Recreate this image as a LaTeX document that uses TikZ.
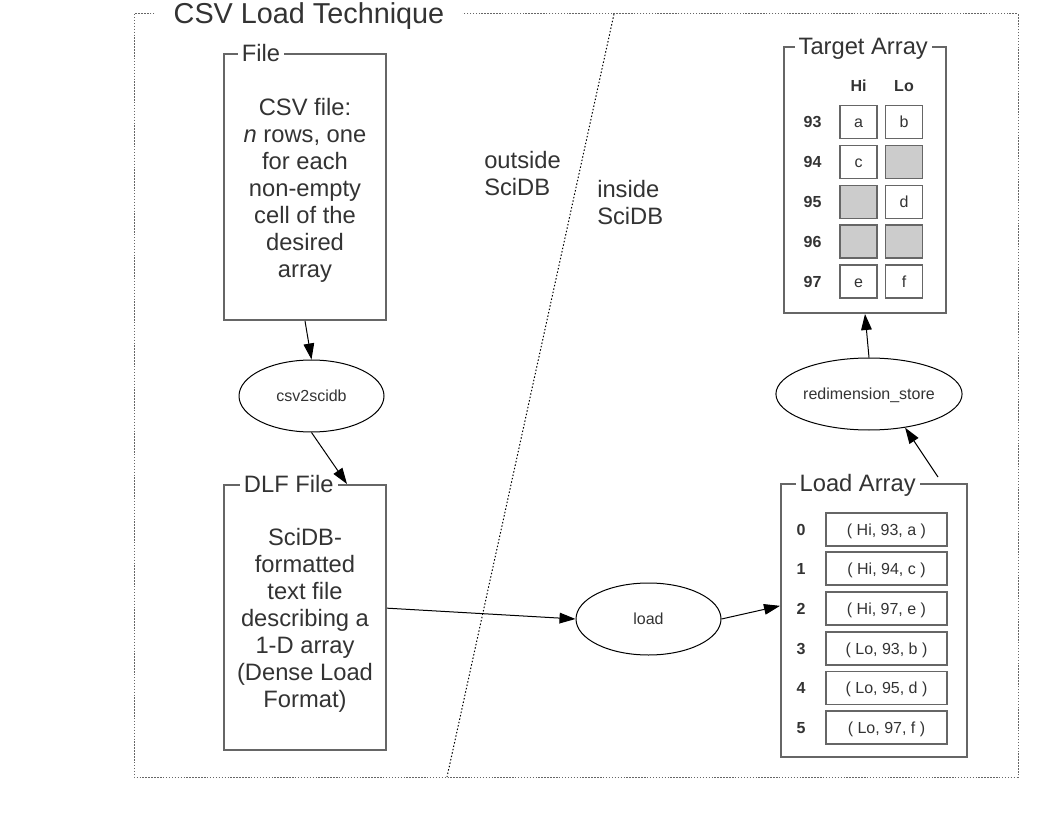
\documentclass[tikz,border=0pt]{standalone}
\usepackage{fontspec}
\setmainfont{Liberation Sans}
\usetikzlibrary{arrows.meta,shapes.geometric}
\definecolor{txt}{HTML}{333333}
\definecolor{rim}{HTML}{666666}
\definecolor{hole}{HTML}{CCCCCC}
\begin{document}
\begin{tikzpicture}[x=0.75pt,y=-0.75pt,
  big/.style={font=\fontsize{17.8}{20.25}\selectfont,text=txt},
  small/.style={font=\fontsize{12}{14}\selectfont,text=txt,text height=10.9pt,text depth=2.5pt},
  box/.style={draw=rim,line width=1.5pt,big,align=center,inner sep=0pt},
  lbl/.style={fill=white,big,inner xsep=3pt,inner ysep=1pt,anchor=west,text height=12.7pt,text depth=0pt},
  op/.style={ellipse,draw,line width=0.75pt,small,minimum width=108.75pt,minimum height=54pt,inner sep=0pt},
  cell/.style={draw=rim,line width=1.1pt,small,minimum width=27.75pt,minimum height=24.75pt,inner sep=0pt},
  tuple/.style={draw=rim,line width=1.1pt,small,minimum width=90.75pt,minimum height=24.75pt,inner sep=0pt},
  idx/.style={small,font=\fontsize{12}{14}\selectfont\bfseries},
  arr/.style={-{Triangle[length=12pt,width=8pt]},line width=0.75pt}]
\useasboundingbox (0,0) rectangle (1056,816);

% frame and the SciDB border
\draw[rim,line width=0.75pt,dash pattern=on 1.1pt off 1.1pt] (134,14) rectangle (1018,777);
\draw[line width=0.75pt,dash pattern=on 1.1pt off 1.5pt] (614,14) -- (447,777);
\node[fill=white,inner xsep=13pt,inner ysep=1pt,text=txt,font=\fontsize{21.6}{26}\selectfont,anchor=base] (title) at (309,23.3) {CSV Load Technique};

\node[big,align=left,anchor=west,inner sep=0pt] (outside) at (484,173.5) {outside\\SciDB};
\node[big,align=left,anchor=west,inner sep=0pt] (inside)  at (597,203)   {inside\\SciDB};

% files
\node[box,minimum width=121.5pt,minimum height=199.5pt] (file) at (305,187)
  {\rule{0pt}{17.5pt}CSV file:\\\textit{n} rows, one\\for each\\non-empty\\cell of the\\desired\\array};
\node[lbl] (filelbl) at ([xshift=11pt]file.north west) {File};

\node[box,minimum width=121.5pt,minimum height=198.75pt] (dlf) at (305,617.5)
  {\rule{0pt}{17.5pt}SciDB-\\formatted\\text file\\describing a\\1-D array\\(Dense Load\\Format)};
\node[lbl] (dlflbl) at ([xshift=12.5pt]dlf.north west) {DLF File};

% operators
\node[op] (csv)   at (311.5,396) {csv2scidb};
\node[op] (load)  at (648.5,619) {load};
\node[op] (redim) at (869,394)   {redimension\_store};

% target array
\node[box,minimum width=121.5pt,minimum height=199.5pt] (target) at (865,180) {};
\node[lbl] (targetlbl) at ([xshift=8.5pt]target.north west) {Target Array};
\node[idx] (hi) at (858.5,86) {Hi};
\node[idx] (lo) at (904,86)   {Lo};
\node[idx] (r93) at (812.5,122)   {93};
\node[idx] (r94) at (812.5,162)   {94};
\node[idx] (r95) at (812.5,202)   {95};
\node[idx] (r96) at (812.5,241.5) {96};
\node[idx] (r97) at (812.5,281.5) {97};
\node[cell]           (hi93) at (858.5,122)   {a};
\node[cell]           (lo93) at (904,122)     {b};
\node[cell]           (hi94) at (858.5,162)   {c};
\node[cell,fill=hole] (lo94) at (904,162)     {};
\node[cell,fill=hole] (hi95) at (858.5,202)   {};
\node[cell]           (lo95) at (904,202)     {d};
\node[cell,fill=hole] (hi96) at (858.5,241.5) {};
\node[cell,fill=hole] (lo96) at (904,241.5)   {};
\node[cell]           (hi97) at (858.5,281.5) {e};
\node[cell]           (lo97) at (904,281.5)   {f};

% load array
\node[box,minimum width=139.5pt,minimum height=204.75pt] (loadarr) at (874,620.5) {};
\node[lbl] (loadarrlbl) at ([xshift=11.5pt]loadarr.north west) {Load Array};
\node[idx] (i0) at (801,529.5) {0};
\node[idx] (i1) at (801,568.5) {1};
\node[idx] (i2) at (801,608.5) {2};
\node[idx] (i3) at (801,648.5) {3};
\node[idx] (i4) at (801,688)   {4};
\node[idx] (i5) at (801,727.5) {5};
\node[tuple] (t0) at (886.5,529.5) {( Hi, 93, a )};
\node[tuple] (t1) at (886.5,568.5) {( Hi, 94, c )};
\node[tuple] (t2) at (886.5,608.5) {( Hi, 97, e )};
\node[tuple] (t3) at (886.5,648.5) {( Lo, 93, b )};
\node[tuple] (t4) at (886.5,688)   {( Lo, 95, d )};
\node[tuple] (t5) at (886.5,727.5) {( Lo, 97, f )};

% flow
\draw[arr] (file.south) -- (csv.north);
\draw[arr] (csv.south) -- ([xshift=93pt]dlf.north west);
\draw[arr] ([yshift=7pt]dlf.east) -- (load.west);
\draw[arr] (load.east) -- ([yshift=11pt]loadarr.west);
\draw[arr] ([xshift=-22.5pt,yshift=4.5pt]loadarr.north east) -- (redim.-43);
\draw[arr] (redim.north) -- (target.south);

\end{tikzpicture}
\end{document}
